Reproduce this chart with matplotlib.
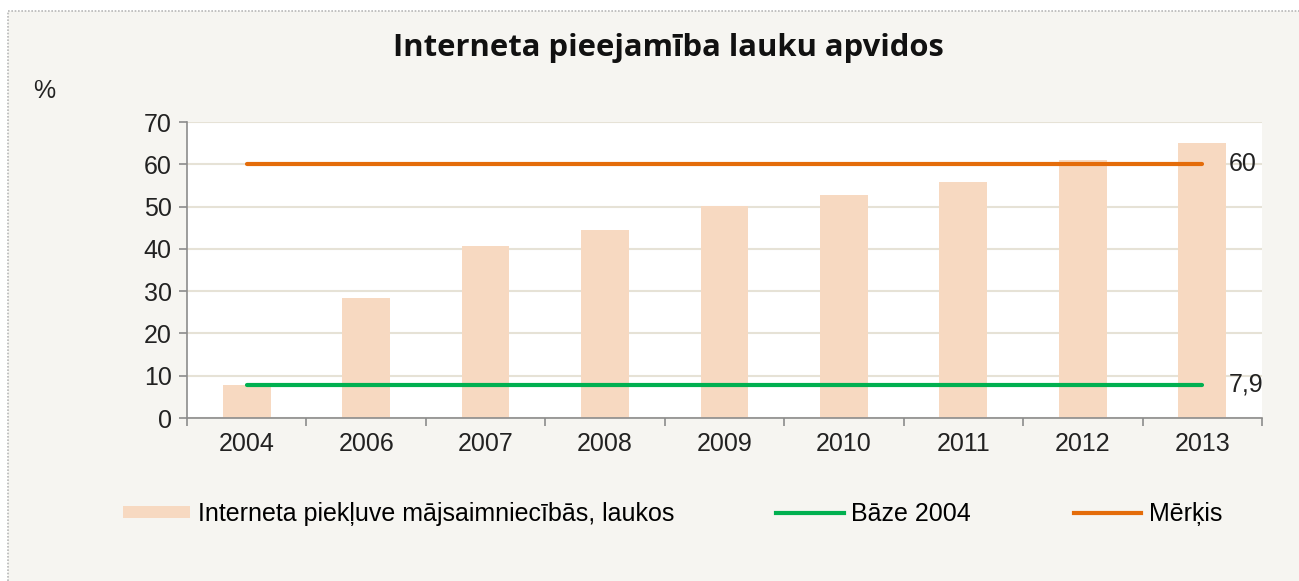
import matplotlib.pyplot as plt
from matplotlib.lines import Line2D
from matplotlib.patches import Patch
import numpy as np

# --- DATA ---
years = ["2004", "2006", "2007", "2008", "2009", "2010", "2011", "2012", "2013"]
access_rural = [7.9, 28.4, 40.7, 44.4, 50.1, 52.7, 55.8, 61.0, 65.0]
base_2004 = 7.9
target = 60

title = "Interneta pieejamība lauku apvidos"
legend_labels = ["Interneta piekļuve mājsaimniecībās, laukos", "Bāze 2004", "Mērķis"]

# --- STYLE ---
BG = "#f6f5f1"
BAR_COLOR = "#f7d9c1"
GREEN = "#00b050"
ORANGE = "#e46c0a"
GRID = "#e6e2d6"
AXIS = "#8c8c8c"
FONT = "Liberation Sans"
FS = 18

W, H = 1299, 581
fig = plt.figure(figsize=(W / 100, H / 100), dpi=100)
fig.patch.set_facecolor("white")

# chart box (only left and top border visible)
bg = plt.Rectangle((8 / W, 0), 1, 1 - 11 / H, transform=fig.transFigure,
                   facecolor=BG, edgecolor="none", zorder=-2)
fig.patches.append(bg)
fig.add_artist(Line2D([8 / W, 8 / W], [0, 1 - 11 / H], transform=fig.transFigure,
                      color="#b8b8b8", lw=1.2, ls=(0, (1, 1))))
fig.add_artist(Line2D([8 / W, 1], [1 - 11 / H, 1 - 11 / H], transform=fig.transFigure,
                      color="#b8b8b8", lw=1.2, ls=(0, (1, 1))))

left, right, top, bottom = 187, 1262, 122, 418
ax = fig.add_axes([left / W, 1 - bottom / H, (right - left) / W, (bottom - top) / H])
ax.set_facecolor("white")

x = np.arange(len(years))
ax.bar(x, access_rural, width=0.4, color=BAR_COLOR, zorder=2)
ax.plot([x[0], x[-1]], [base_2004, base_2004], color=GREEN, lw=3, solid_capstyle="round", zorder=3)
ax.plot([x[0], x[-1]], [target, target], color=ORANGE, lw=3, solid_capstyle="round", zorder=3)

ax.text(x[-1] + 0.22, target, "60", fontsize=FS, family=FONT, va="center", ha="left", color="#222222")
ax.text(x[-1] + 0.22, base_2004, "7,9", fontsize=FS, family=FONT, va="center", ha="left", color="#222222")

ax.set_xlim(-0.5, len(years) - 0.5)
ax.set_ylim(0, 70)
ax.set_yticks(range(0, 71, 10))
ax.yaxis.grid(True, color=GRID, lw=1.5, zorder=0)
ax.set_axisbelow(True)

ax.set_xticks(x)
ax.set_xticklabels(years, fontsize=FS, family=FONT, color="#222222")
ax.set_xticks(np.arange(-0.5, len(years), 1), minor=True)
ax.tick_params(axis="x", which="major", length=0, pad=10)
ax.tick_params(axis="x", which="minor", length=6, color=AXIS, width=1.2)
ax.tick_params(axis="y", length=6, color=AXIS, width=1.2, pad=5)
for lbl in ax.get_yticklabels():
    lbl.set_fontsize(FS)
    lbl.set_family(FONT)
    lbl.set_color("#222222")

for side in ["top", "right"]:
    ax.spines[side].set_visible(False)
for side in ["left", "bottom"]:
    ax.spines[side].set_color(AXIS)
    ax.spines[side].set_linewidth(1.2)

fig.text(668 / W, 1 - 48 / H, title, fontsize=22.3, fontweight="bold", family="Open Sans",
         ha="center", va="center", color="#111111")
fig.text(33 / W, 1 - 91 / H, "%", fontsize=FS, family=FONT, ha="left", va="center", color="#222222")

handles = [Patch(facecolor=BAR_COLOR, edgecolor="none"),
           Line2D([], [], color=GREEN, lw=3),
           Line2D([], [], color=ORANGE, lw=3)]
fig.legend(handles, legend_labels, loc="center left", bbox_to_anchor=(110 / W, 1 - 514 / H),
           ncol=3, frameon=False, prop={"family": FONT, "size": FS}, borderpad=0,
           handlelength=2.7, handleheight=0.4, handletextpad=0.3, columnspacing=4.1)

fig.savefig("out.png", dpi=100, facecolor=fig.get_facecolor())
